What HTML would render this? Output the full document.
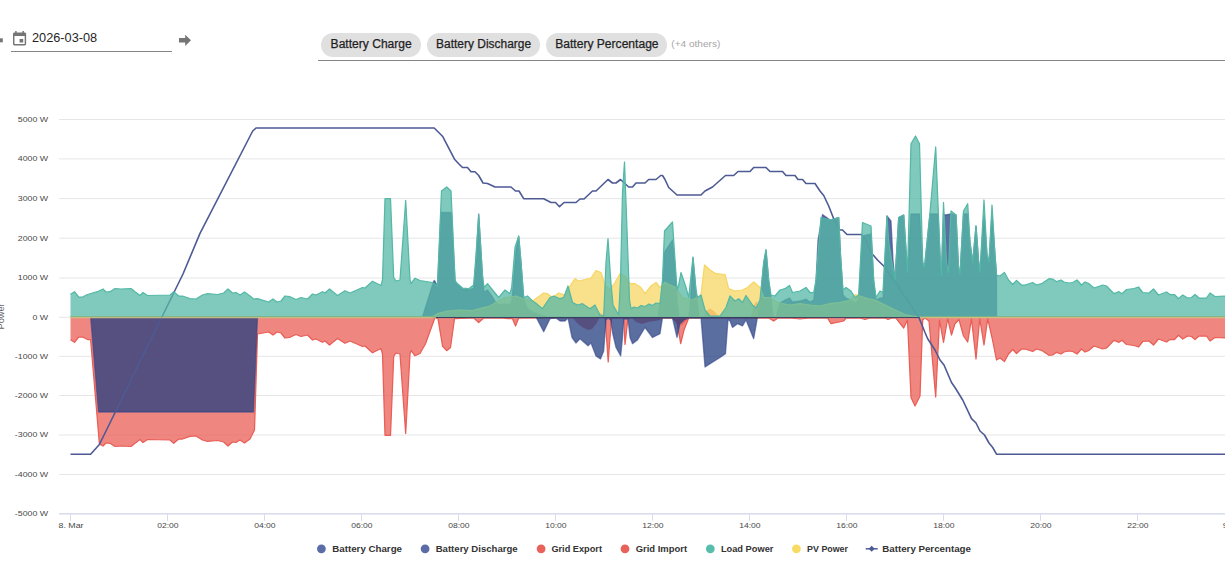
<!DOCTYPE html>
<html><head><meta charset="utf-8">
<style>
html,body{margin:0;padding:0;background:#fff;}
body{width:1225px;height:577px;overflow:hidden;position:relative;font-family:"Liberation Sans",sans-serif;}
svg{position:absolute;left:0;top:0;}
.ax{font-family:"Liberation Sans",sans-serif;font-size:8.1px;fill:#484848;}
.axt{font-family:"Liberation Sans",sans-serif;font-size:9.5px;fill:#666;}
.lg{font-family:"Liberation Sans",sans-serif;font-size:9.4px;font-weight:bold;fill:#333;}
.hd{font-family:"Liberation Sans",sans-serif;font-size:12.8px;fill:#1f1f1f;}
.ch{font-family:"Liberation Sans",sans-serif;font-size:12px;fill:#1f1f1f;stroke:#1f1f1f;stroke-width:0.25px;}
.ot{font-family:"Liberation Sans",sans-serif;font-size:9.8px;fill:#a6a6a6;}
</style></head><body>
<svg width="1225" height="577" viewBox="0 0 1225 577">
<!-- header -->
<rect x="0" y="38.3" width="2.8" height="4" fill="#757575"/>
<g fill="#757575" transform="translate(10.8,30.2) scale(0.73)">
<path d="M17 12h-5v5h5v-5zM16 1v2H8V1H6v2H5c-1.110 0-1.990.9-1.990 2L3 19c0 1.100.890 2 2 2h14c1.100 0 2-.9 2-2V5c0-1.100-.9-2-2-2h-1V1h-2zm3 18H5V8h14v11z"/>
</g>
<text x="32" y="42.2" textLength="65.2" lengthAdjust="spacingAndGlyphs" class="hd">2026-03-08</text>
<rect x="11" y="51" width="161" height="1" fill="#858585"/>
<path d="M179,38.100h6.200v-3.300l5.800,5.550l-5.800,5.550v-3.300h-6.200z" fill="#757575"/>
<rect x="321" y="33" width="100" height="24" rx="12" fill="#e0e0e0"/>
<rect x="427" y="33" width="113" height="24" rx="12" fill="#e0e0e0"/>
<rect x="546" y="33" width="121" height="24" rx="12" fill="#e0e0e0"/>
<text x="330.600" y="48.050" textLength="81.2" lengthAdjust="spacingAndGlyphs" class="ch">Battery Charge</text>
<text x="436.100" y="48.050" textLength="95" lengthAdjust="spacingAndGlyphs" class="ch">Battery Discharge</text>
<text x="555.200" y="48.050" textLength="103.4" lengthAdjust="spacingAndGlyphs" class="ch">Battery Percentage</text>
<text x="671.300" y="47" textLength="49" lengthAdjust="spacingAndGlyphs" class="ot">(+4 others)</text>
<rect x="318" y="60" width="907" height="1" fill="#858585"/>
<line x1="59" x2="1225" y1="119.5" y2="119.5" stroke="#e6e6e6" stroke-width="1"/>
<line x1="59" x2="1225" y1="158.9" y2="158.9" stroke="#e6e6e6" stroke-width="1"/>
<line x1="59" x2="1225" y1="198.6" y2="198.6" stroke="#e6e6e6" stroke-width="1"/>
<line x1="59" x2="1225" y1="238.2" y2="238.2" stroke="#e6e6e6" stroke-width="1"/>
<line x1="59" x2="1225" y1="278.0" y2="278.0" stroke="#e6e6e6" stroke-width="1"/>
<line x1="59" x2="1225" y1="317.3" y2="317.3" stroke="#e6e6e6" stroke-width="1"/>
<line x1="59" x2="1225" y1="356.3" y2="356.3" stroke="#e6e6e6" stroke-width="1"/>
<line x1="59" x2="1225" y1="395.5" y2="395.5" stroke="#e6e6e6" stroke-width="1"/>
<line x1="59" x2="1225" y1="435.0" y2="435.0" stroke="#e6e6e6" stroke-width="1"/>
<line x1="59" x2="1225" y1="474.5" y2="474.5" stroke="#e6e6e6" stroke-width="1"/>
<line x1="59" x2="1225" y1="513.8" y2="513.8" stroke="#d6dcec" stroke-width="1.4"/>
<line x1="70.5" x2="70.5" y1="513.8" y2="520.8" stroke="#d6dcec" stroke-width="1"/>
<line x1="167.5" x2="167.5" y1="513.8" y2="520.8" stroke="#d6dcec" stroke-width="1"/>
<line x1="264.5" x2="264.5" y1="513.8" y2="520.8" stroke="#d6dcec" stroke-width="1"/>
<line x1="361.5" x2="361.5" y1="513.8" y2="520.8" stroke="#d6dcec" stroke-width="1"/>
<line x1="458.5" x2="458.5" y1="513.8" y2="520.8" stroke="#d6dcec" stroke-width="1"/>
<line x1="555.5" x2="555.5" y1="513.8" y2="520.8" stroke="#d6dcec" stroke-width="1"/>
<line x1="652.5" x2="652.5" y1="513.8" y2="520.8" stroke="#d6dcec" stroke-width="1"/>
<line x1="749.5" x2="749.5" y1="513.8" y2="520.8" stroke="#d6dcec" stroke-width="1"/>
<line x1="846.5" x2="846.5" y1="513.8" y2="520.8" stroke="#d6dcec" stroke-width="1"/>
<line x1="943.5" x2="943.5" y1="513.8" y2="520.8" stroke="#d6dcec" stroke-width="1"/>
<line x1="1040.5" x2="1040.5" y1="513.8" y2="520.8" stroke="#d6dcec" stroke-width="1"/>
<line x1="1137.5" x2="1137.5" y1="513.8" y2="520.8" stroke="#d6dcec" stroke-width="1"/>
<line x1="1234.5" x2="1234.5" y1="513.8" y2="520.8" stroke="#d6dcec" stroke-width="1"/>
<path d="M572.0,317.0L572.0,317.0L577.0,323.0L582.0,327.0L588.0,330.0L592.0,329.0L596.0,324.0L600.0,317.0L631.0,317.0L636.0,322.0L642.0,324.0L648.0,322.0L655.0,321.0L660.0,320.0L665.0,317.0L673.0,317.0L677.0,324.0L682.0,325.0L686.0,321.0L690.0,317.0L690.0,317.0 Z" fill="#e95e56" fill-opacity="0.75" stroke="none"/>
<path d="M597.0,317.0L597.0,317.0L600.0,313.0L603.0,314.0L605.0,317.0L704.0,317.0L706.0,311.0L710.0,308.5L714.0,311.0L717.0,314.5L720.0,317.0L751.0,317.0L753.5,306.0L756.0,301.0L758.7,305.0L760.0,317.0L760.0,317.0 Z" fill="#e95e56" fill-opacity="0.75" stroke="none"/>
<path d="M70.5,317.0L70.5,339.8L74.5,342.3L78.7,337.0L82.5,337.0L87.5,339.5L90.6,339.5L99.4,444.0L103.0,446.0L106.0,443.0L110.0,443.3L115.0,446.5L121.0,446.0L131.0,446.5L135.0,443.3L140.0,439.5L143.0,442.5L147.5,439.5L170.0,440.0L173.7,443.3L178.7,439.0L182.5,439.0L190.0,436.3L196.0,436.0L202.5,440.0L207.5,441.3L217.5,440.5L223.7,442.0L228.0,446.0L232.5,442.0L236.0,442.5L240.0,440.0L244.5,443.0L250.0,439.0L254.5,430.0L257.5,334.0L268.7,332.0L273.0,335.0L277.0,332.0L281.0,333.0L285.0,338.0L290.0,337.3L296.0,334.5L301.0,336.5L307.5,335.0L312.5,340.0L316.0,339.0L322.5,342.3L325.0,341.0L329.5,345.0L337.5,338.5L345.0,343.3L350.0,341.0L362.5,346.5L365.0,346.0L372.5,352.8L381.0,348.5L382.5,354.0L385.0,435.3L390.5,435.3L393.7,356.5L396.0,353.0L400.0,354.0L405.7,433.5L410.0,354.0L411.0,350.3L415.0,355.8L420.0,353.5L425.5,343.7L435.0,317.5L438.0,318.7L442.5,346.0L446.7,350.7L450.5,347.5L454.5,318.7L473.7,318.0L478.7,322.5L483.7,318.0L501.0,318.0L507.5,318.7L512.5,318.7L515.5,326.0L518.7,318.0L604.0,317.5L605.2,318.0L608.2,362.0L611.5,318.0L623.7,318.0L625.0,344.5L628.0,318.0L672.0,318.0L677.0,322.0L680.7,343.7L684.0,330.0L688.7,318.0L768.7,318.0L773.7,321.0L778.0,318.0L790.0,318.0L800.0,319.0L810.0,318.0L827.5,318.0L831.0,323.7L843.7,321.0L846.0,318.0L860.0,318.0L865.0,319.5L870.0,318.0L885.0,318.0L888.0,319.5L892.0,318.0L896.0,318.0L903.7,328.0L907.5,320.0L911.0,397.5L915.0,406.0L920.0,396.0L922.7,320.0L925.0,318.0L929.0,321.0L935.7,397.0L939.5,320.0L943.5,342.5L947.7,318.7L951.5,335.0L955.0,323.7L959.0,319.5L963.5,336.0L967.7,342.0L971.5,318.7L976.0,359.0L979.7,318.7L984.0,345.0L987.7,318.7L992.0,337.5L996.5,360.0L1000.0,358.0L1004.5,361.5L1008.5,354.0L1012.7,349.5L1016.5,353.5L1021.5,349.0L1025.0,349.0L1032.7,351.5L1036.5,349.0L1041.5,350.3L1049.0,355.3L1052.7,355.0L1056.5,352.3L1061.0,354.0L1064.0,352.0L1069.0,351.0L1072.7,351.5L1077.0,354.0L1081.5,349.0L1085.0,352.0L1089.0,350.3L1094.0,346.0L1102.7,349.0L1106.5,348.0L1114.0,340.3L1119.0,342.3L1122.0,340.3L1126.5,344.5L1134.0,345.5L1138.5,347.0L1142.7,341.5L1149.0,341.0L1153.5,345.0L1158.5,339.0L1166.5,342.0L1170.0,339.5L1174.5,339.5L1178.5,335.3L1182.7,339.0L1187.7,336.0L1191.5,336.5L1195.0,339.5L1199.0,336.0L1206.5,336.0L1210.0,341.0L1215.0,337.5L1225.0,338.0L1235.0,338.0L1235.0,317.0 Z" fill="#e95e56" fill-opacity="0.75" stroke="none"/><path d="M70.5,339.8L74.5,342.3L78.7,337.0L82.5,337.0L87.5,339.5L90.6,339.5L99.4,444.0L103.0,446.0L106.0,443.0L110.0,443.3L115.0,446.5L121.0,446.0L131.0,446.5L135.0,443.3L140.0,439.5L143.0,442.5L147.5,439.5L170.0,440.0L173.7,443.3L178.7,439.0L182.5,439.0L190.0,436.3L196.0,436.0L202.5,440.0L207.5,441.3L217.5,440.5L223.7,442.0L228.0,446.0L232.5,442.0L236.0,442.5L240.0,440.0L244.5,443.0L250.0,439.0L254.5,430.0L257.5,334.0L268.7,332.0L273.0,335.0L277.0,332.0L281.0,333.0L285.0,338.0L290.0,337.3L296.0,334.5L301.0,336.5L307.5,335.0L312.5,340.0L316.0,339.0L322.5,342.3L325.0,341.0L329.5,345.0L337.5,338.5L345.0,343.3L350.0,341.0L362.5,346.5L365.0,346.0L372.5,352.8L381.0,348.5L382.5,354.0L385.0,435.3L390.5,435.3L393.7,356.5L396.0,353.0L400.0,354.0L405.7,433.5L410.0,354.0L411.0,350.3L415.0,355.8L420.0,353.5L425.5,343.7L435.0,317.5L438.0,318.7L442.5,346.0L446.7,350.7L450.5,347.5L454.5,318.7L473.7,318.0L478.7,322.5L483.7,318.0L501.0,318.0L507.5,318.7L512.5,318.7L515.5,326.0L518.7,318.0L604.0,317.5L605.2,318.0L608.2,362.0L611.5,318.0L623.7,318.0L625.0,344.5L628.0,318.0L672.0,318.0L677.0,322.0L680.7,343.7L684.0,330.0L688.7,318.0L768.7,318.0L773.7,321.0L778.0,318.0L790.0,318.0L800.0,319.0L810.0,318.0L827.5,318.0L831.0,323.7L843.7,321.0L846.0,318.0L860.0,318.0L865.0,319.5L870.0,318.0L885.0,318.0L888.0,319.5L892.0,318.0L896.0,318.0L903.7,328.0L907.5,320.0L911.0,397.5L915.0,406.0L920.0,396.0L922.7,320.0L925.0,318.0L929.0,321.0L935.7,397.0L939.5,320.0L943.5,342.5L947.7,318.7L951.5,335.0L955.0,323.7L959.0,319.5L963.5,336.0L967.7,342.0L971.5,318.7L976.0,359.0L979.7,318.7L984.0,345.0L987.7,318.7L992.0,337.5L996.5,360.0L1000.0,358.0L1004.5,361.5L1008.5,354.0L1012.7,349.5L1016.5,353.5L1021.5,349.0L1025.0,349.0L1032.7,351.5L1036.5,349.0L1041.5,350.3L1049.0,355.3L1052.7,355.0L1056.5,352.3L1061.0,354.0L1064.0,352.0L1069.0,351.0L1072.7,351.5L1077.0,354.0L1081.5,349.0L1085.0,352.0L1089.0,350.3L1094.0,346.0L1102.7,349.0L1106.5,348.0L1114.0,340.3L1119.0,342.3L1122.0,340.3L1126.5,344.5L1134.0,345.5L1138.5,347.0L1142.7,341.5L1149.0,341.0L1153.5,345.0L1158.5,339.0L1166.5,342.0L1170.0,339.5L1174.5,339.5L1178.5,335.3L1182.7,339.0L1187.7,336.0L1191.5,336.5L1195.0,339.5L1199.0,336.0L1206.5,336.0L1210.0,341.0L1215.0,337.5L1225.0,338.0L1235.0,338.0" fill="none" stroke="#e95e56" stroke-opacity="1" stroke-width="1.25" stroke-linejoin="round"/>
<path d="M90.6,317.0L90.6,317.0L98.5,412.0L253.5,412.0L257.5,317.0L536.0,317.0L543.7,331.7L550.0,318.7L556.0,318.0L560.0,321.0L565.0,321.0L568.0,318.0L572.0,337.5L576.0,343.0L580.0,338.7L588.0,345.7L591.0,343.0L596.0,356.0L600.5,359.0L603.7,351.0L606.0,320.0L608.0,318.0L610.7,320.0L612.5,332.5L616.0,347.5L620.7,356.0L622.5,337.5L623.7,319.0L628.0,319.0L630.0,337.5L632.5,343.7L637.5,340.0L645.0,327.5L652.5,337.5L660.0,333.7L662.5,318.0L672.5,318.0L677.0,337.5L680.0,323.7L684.0,320.0L688.7,318.0L701.0,318.0L705.0,367.0L720.0,357.5L725.5,353.7L728.0,320.0L730.0,321.0L732.5,327.5L737.5,323.7L742.5,326.0L746.0,320.0L753.7,338.7L757.5,317.0L757.5,317.0 Z" fill="#233d80" fill-opacity="0.75" stroke="none"/><path d="M90.6,317.0L98.5,412.0L253.5,412.0L257.5,317.0L536.0,317.0L543.7,331.7L550.0,318.7L556.0,318.0L560.0,321.0L565.0,321.0L568.0,318.0L572.0,337.5L576.0,343.0L580.0,338.7L588.0,345.7L591.0,343.0L596.0,356.0L600.5,359.0L603.7,351.0L606.0,320.0L608.0,318.0L610.7,320.0L612.5,332.5L616.0,347.5L620.7,356.0L622.5,337.5L623.7,319.0L628.0,319.0L630.0,337.5L632.5,343.7L637.5,340.0L645.0,327.5L652.5,337.5L660.0,333.7L662.5,318.0L672.5,318.0L677.0,337.5L680.0,323.7L684.0,320.0L688.7,318.0L701.0,318.0L705.0,367.0L720.0,357.5L725.5,353.7L728.0,320.0L730.0,321.0L732.5,327.5L737.5,323.7L742.5,326.0L746.0,320.0L753.7,338.7L757.5,317.0" fill="none" stroke="#34458a" stroke-opacity="0.6" stroke-width="1.3" stroke-linejoin="round"/>
<path d="M422.5,317.0L422.5,317.0L433.7,281.0L434.5,280.5L437.5,286.0L441.0,212.5L451.5,212.5L455.0,280.0L456.0,282.5L462.5,289.0L468.7,290.0L473.7,288.0L476.0,262.0L478.7,214.0L482.5,278.0L484.0,292.0L487.5,290.0L492.5,297.0L495.6,302.0L498.7,305.0L505.0,304.0L510.0,305.0L512.0,300.0L516.0,250.0L518.7,236.5L521.0,262.5L523.7,298.0L527.0,308.0L532.5,312.0L540.0,315.0L548.0,317.0L658.0,317.0L662.5,285.0L664.5,252.0L672.5,240.0L675.0,265.0L677.0,300.0L679.0,317.0L689.0,317.0L690.5,300.0L693.0,258.0L696.0,292.0L697.5,303.0L699.0,317.0L758.0,317.0L760.0,303.0L763.7,264.0L766.0,250.5L768.7,281.0L771.0,298.0L773.0,317.0L776.0,317.0L780.0,303.0L785.0,300.0L789.5,298.0L792.5,302.0L800.0,301.0L806.0,299.0L810.0,302.0L813.7,300.0L816.0,282.0L818.0,240.0L822.5,214.5L826.0,217.0L830.0,220.0L838.7,217.5L840.5,255.0L843.0,295.0L846.0,298.0L851.0,300.0L855.0,303.0L858.7,300.0L862.5,236.0L871.0,234.0L873.7,282.0L876.0,300.0L880.0,298.0L883.0,298.0L886.0,240.0L887.0,216.0L891.0,221.0L893.0,260.0L895.0,280.0L898.7,217.5L903.7,215.0L907.5,272.5L911.0,214.0L919.5,214.0L922.7,262.5L924.5,267.5L930.0,214.0L938.0,214.0L940.0,255.0L941.5,275.0L943.5,214.0L945.0,215.0L951.0,214.0L956.0,215.0L958.5,267.5L960.0,275.0L963.5,214.0L967.7,214.0L970.0,242.5L972.7,262.5L976.0,226.0L978.5,260.0L980.0,272.5L984.0,214.0L987.0,255.0L989.0,262.5L992.0,214.0L995.0,255.0L996.5,275.0L996.6,317.0L996.6,317.0 Z" fill="#263f84" fill-opacity="0.75" stroke="none"/><path d="M422.5,317.0L433.7,281.0L434.5,280.5L437.5,286.0L441.0,212.5L451.5,212.5L455.0,280.0L456.0,282.5L462.5,289.0L468.7,290.0L473.7,288.0L476.0,262.0L478.7,214.0L482.5,278.0L484.0,292.0L487.5,290.0L492.5,297.0L495.6,302.0L498.7,305.0L505.0,304.0L510.0,305.0L512.0,300.0L516.0,250.0L518.7,236.5L521.0,262.5L523.7,298.0L527.0,308.0L532.5,312.0L540.0,315.0L548.0,317.0L658.0,317.0L662.5,285.0L664.5,252.0L672.5,240.0L675.0,265.0L677.0,300.0L679.0,317.0L689.0,317.0L690.5,300.0L693.0,258.0L696.0,292.0L697.5,303.0L699.0,317.0L758.0,317.0L760.0,303.0L763.7,264.0L766.0,250.5L768.7,281.0L771.0,298.0L773.0,317.0L776.0,317.0L780.0,303.0L785.0,300.0L789.5,298.0L792.5,302.0L800.0,301.0L806.0,299.0L810.0,302.0L813.7,300.0L816.0,282.0L818.0,240.0L822.5,214.5L826.0,217.0L830.0,220.0L838.7,217.5L840.5,255.0L843.0,295.0L846.0,298.0L851.0,300.0L855.0,303.0L858.7,300.0L862.5,236.0L871.0,234.0L873.7,282.0L876.0,300.0L880.0,298.0L883.0,298.0L886.0,240.0L887.0,216.0L891.0,221.0L893.0,260.0L895.0,280.0L898.7,217.5L903.7,215.0L907.5,272.5L911.0,214.0L919.5,214.0L922.7,262.5L924.5,267.5L930.0,214.0L938.0,214.0L940.0,255.0L941.5,275.0L943.5,214.0L945.0,215.0L951.0,214.0L956.0,215.0L958.5,267.5L960.0,275.0L963.5,214.0L967.7,214.0L970.0,242.5L972.7,262.5L976.0,226.0L978.5,260.0L980.0,272.5L984.0,214.0L987.0,255.0L989.0,262.5L992.0,214.0L995.0,255.0L996.5,275.0L996.6,317.0" fill="none" stroke="#34458a" stroke-opacity="0.6" stroke-width="1.3" stroke-linejoin="round"/>
<path d="M70.5,317.0L70.5,317.0L432.0,317.0L437.5,313.7L447.5,311.0L460.0,310.0L472.5,310.7L480.0,308.7L490.0,306.0L500.0,300.0L505.0,297.5L510.0,297.0L516.0,296.0L522.5,298.7L532.5,301.0L537.5,297.5L543.7,293.0L547.5,293.7L552.5,297.5L558.7,293.0L565.0,295.0L570.0,286.0L575.0,278.7L578.7,281.0L585.0,279.5L591.0,278.0L596.0,270.5L601.0,272.5L605.0,285.0L610.0,290.0L615.0,282.5L620.0,273.7L625.0,276.0L630.0,283.7L635.0,283.7L641.0,287.5L645.0,293.7L651.0,286.0L656.0,282.5L660.0,287.5L665.0,282.5L670.0,285.0L676.0,287.5L682.5,297.5L692.5,300.0L701.0,295.0L704.5,265.0L710.0,270.0L716.0,273.7L725.0,274.5L728.7,288.7L735.0,291.0L742.5,290.0L747.5,287.5L753.7,282.0L760.0,287.5L763.7,297.5L770.0,297.5L777.5,302.5L790.0,305.0L800.0,303.7L810.0,305.0L820.0,306.0L830.0,303.7L840.0,302.5L850.0,300.0L855.5,294.5L860.0,296.0L867.5,298.7L875.0,300.0L882.5,303.7L890.0,307.5L897.5,311.0L905.0,314.5L912.5,316.0L920.0,317.0L1235.0,317.0L1235.0,317.0 Z" fill="#f7d664" fill-opacity="0.75" stroke="none"/><path d="M70.5,317.0L432.0,317.0L437.5,313.7L447.5,311.0L460.0,310.0L472.5,310.7L480.0,308.7L490.0,306.0L500.0,300.0L505.0,297.5L510.0,297.0L516.0,296.0L522.5,298.7L532.5,301.0L537.5,297.5L543.7,293.0L547.5,293.7L552.5,297.5L558.7,293.0L565.0,295.0L570.0,286.0L575.0,278.7L578.7,281.0L585.0,279.5L591.0,278.0L596.0,270.5L601.0,272.5L605.0,285.0L610.0,290.0L615.0,282.5L620.0,273.7L625.0,276.0L630.0,283.7L635.0,283.7L641.0,287.5L645.0,293.7L651.0,286.0L656.0,282.5L660.0,287.5L665.0,282.5L670.0,285.0L676.0,287.5L682.5,297.5L692.5,300.0L701.0,295.0L704.5,265.0L710.0,270.0L716.0,273.7L725.0,274.5L728.7,288.7L735.0,291.0L742.5,290.0L747.5,287.5L753.7,282.0L760.0,287.5L763.7,297.5L770.0,297.5L777.5,302.5L790.0,305.0L800.0,303.7L810.0,305.0L820.0,306.0L830.0,303.7L840.0,302.5L850.0,300.0L855.5,294.5L860.0,296.0L867.5,298.7L875.0,300.0L882.5,303.7L890.0,307.5L897.5,311.0L905.0,314.5L912.5,316.0L920.0,317.0L1235.0,317.0" fill="none" stroke="#f7d664" stroke-opacity="1" stroke-width="1.25" stroke-linejoin="round"/>
<line x1="436" x2="920" y1="317.6" y2="317.6" stroke="#34405f" stroke-width="1"/>
<path d="M70.5,454.2L90.6,454.2L99.4,444.5L183.0,274.0L200.0,233.4L252.7,131.0L256.0,128.0L434.2,128.0L442.5,136.2L454.5,159.2L458.7,163.7L462.5,167.5L467.5,167.5L471.0,171.7L475.0,171.7L478.7,175.5L483.0,183.0L487.5,183.5L495.0,187.0L511.0,187.0L515.5,191.0L519.0,191.0L523.7,198.7L543.7,198.7L551.0,202.5L555.5,202.5L559.5,206.7L564.0,202.5L576.0,202.5L580.0,199.0L584.0,199.0L592.5,191.0L596.0,191.0L608.0,179.5L612.5,183.0L616.0,183.0L620.5,179.5L628.7,187.0L632.5,187.0L636.0,183.0L645.0,183.0L648.7,179.5L656.0,179.5L660.7,175.5L662.5,175.5L665.0,179.5L668.7,187.5L677.0,195.0L701.0,195.0L705.0,191.0L712.5,187.0L725.5,175.5L733.7,175.5L738.0,171.5L750.0,171.5L753.7,167.5L766.0,167.5L770.0,171.5L782.5,171.5L786.0,175.5L795.0,175.5L798.0,179.5L802.5,179.5L806.0,183.5L815.0,183.5L820.0,191.0L823.7,195.5L828.7,206.0L833.7,218.7L839.5,230.0L842.5,230.0L847.0,234.5L861.2,234.5L865.0,238.7L871.0,252.5L877.5,260.0L883.7,266.0L890.0,275.0L897.5,285.0L903.7,295.0L910.0,303.7L916.0,313.7L918.7,317.0L925.0,332.5L927.7,338.7L935.0,350.0L940.0,360.0L944.0,365.0L951.5,382.5L955.0,387.5L962.7,400.0L971.5,418.7L976.0,423.0L980.0,431.0L984.5,435.0L989.0,443.0L992.7,447.5L996.5,454.2L1235.0,454.2" fill="none" stroke="#4d5a94" stroke-width="1.6" stroke-linejoin="round"/>
<path d="M70.5,317.0L70.5,294.2L74.5,291.7L78.7,297.0L82.5,297.0L87.5,294.5L97.5,291.7L103.0,289.0L106.0,292.0L110.0,291.7L115.0,288.5L121.0,289.0L131.0,288.5L135.0,291.7L140.0,295.5L143.0,292.5L147.5,295.5L170.0,295.0L173.7,291.7L178.7,296.0L182.5,296.0L190.0,298.7L196.0,299.0L202.5,295.0L207.5,293.7L217.5,294.5L223.7,293.0L228.0,289.0L232.5,293.0L236.0,292.5L240.0,295.0L244.5,292.0L250.0,296.0L253.7,299.0L257.5,298.7L268.7,302.0L273.0,299.0L277.0,302.0L281.0,301.0L285.0,296.0L290.0,296.7L296.0,299.5L301.0,297.5L307.5,299.0L312.5,294.0L316.0,295.0L322.5,291.7L325.0,293.0L329.5,289.0L337.5,295.5L345.0,290.7L350.0,293.0L362.5,287.5L365.0,288.0L372.5,281.2L381.0,285.5L382.5,280.0L385.0,198.7L390.5,198.7L393.7,277.5L396.0,281.0L400.0,280.0L405.7,200.5L410.0,280.0L411.0,283.7L415.0,278.2L420.0,280.5L432.5,282.5L437.5,286.0L441.5,191.0L446.7,187.0L451.0,191.0L455.0,280.0L456.0,282.5L462.5,288.0L468.7,288.7L473.7,285.0L476.0,255.0L478.7,215.0L482.5,275.0L484.0,287.5L487.5,283.7L492.5,290.0L498.7,297.5L505.0,290.0L510.0,293.7L511.7,287.5L515.0,247.5L518.7,236.0L521.0,262.5L523.7,297.5L527.5,296.0L532.5,301.0L535.0,302.5L542.5,308.7L550.0,297.5L553.7,296.0L560.0,298.7L563.7,297.5L568.0,286.0L572.5,302.5L577.5,305.0L582.5,303.7L590.0,308.7L595.0,305.0L600.0,315.0L603.7,316.0L606.0,262.5L608.0,238.7L610.7,280.0L613.0,305.0L618.7,315.0L620.5,280.0L622.5,192.5L624.5,162.0L627.0,230.0L629.5,300.0L631.0,308.7L634.0,307.0L637.5,308.0L641.0,305.5L645.0,306.5L649.0,304.0L652.5,305.5L656.0,303.0L660.0,303.7L662.5,280.0L664.5,231.0L672.5,222.0L675.0,260.0L677.0,290.0L678.7,285.0L681.0,272.5L686.0,287.5L688.7,297.5L693.0,257.0L696.0,290.0L697.5,297.5L701.0,295.0L705.0,310.0L710.0,316.0L720.0,316.0L726.0,307.5L730.0,296.0L735.0,301.0L738.7,298.7L742.5,302.5L746.0,295.5L752.5,305.0L756.0,308.0L760.0,300.0L763.7,262.5L766.0,249.5L768.7,280.0L771.0,295.0L775.0,296.0L780.0,290.0L785.0,288.7L789.5,285.5L792.5,292.5L800.0,291.0L806.0,287.5L810.0,292.5L813.7,292.5L816.0,280.0L821.0,217.5L830.0,220.0L838.7,217.5L840.5,255.0L843.0,290.0L846.0,287.5L851.0,291.0L855.0,297.5L858.7,295.0L862.5,222.5L871.0,226.0L873.7,280.0L876.0,297.5L880.0,291.0L883.0,292.5L887.0,216.0L888.7,242.5L895.0,280.0L898.7,217.5L903.7,215.0L907.5,272.5L911.0,143.7L915.5,136.0L919.5,143.7L922.7,262.5L924.5,267.5L930.0,212.5L935.7,147.0L940.0,255.0L941.5,275.0L943.5,202.5L946.5,262.5L948.5,272.5L951.0,211.0L956.0,215.0L958.5,267.5L960.0,275.0L963.5,211.0L967.7,203.7L970.0,242.5L972.7,262.5L976.0,226.0L978.5,260.0L980.0,272.5L984.0,200.0L987.0,255.0L989.0,262.5L992.0,205.0L995.0,255.0L996.5,275.0L1000.0,276.0L1004.5,272.5L1008.5,280.0L1012.7,284.5L1016.5,280.5L1021.5,285.0L1025.0,285.0L1032.7,282.5L1036.5,285.0L1041.5,283.7L1049.0,278.7L1052.7,279.0L1056.5,281.7L1061.0,280.0L1064.0,282.0L1069.0,283.0L1072.7,282.5L1077.0,280.0L1081.5,285.0L1085.0,282.0L1089.0,283.7L1094.0,288.0L1102.7,285.0L1106.5,286.0L1114.0,293.7L1119.0,291.7L1122.0,293.7L1126.5,289.5L1134.0,288.5L1138.5,287.0L1142.7,292.5L1149.0,293.0L1153.5,289.0L1158.5,295.0L1166.5,292.0L1170.0,294.5L1174.5,294.5L1178.5,298.7L1182.7,295.0L1187.7,298.0L1191.5,297.5L1195.0,294.5L1199.0,298.0L1206.5,298.0L1210.0,293.0L1215.0,296.5L1225.0,296.0L1235.0,296.0L1235.0,317.0 Z" fill="#54b8a6" fill-opacity="0.75" stroke="none"/><path d="M70.5,294.2L74.5,291.7L78.7,297.0L82.5,297.0L87.5,294.5L97.5,291.7L103.0,289.0L106.0,292.0L110.0,291.7L115.0,288.5L121.0,289.0L131.0,288.5L135.0,291.7L140.0,295.5L143.0,292.5L147.5,295.5L170.0,295.0L173.7,291.7L178.7,296.0L182.5,296.0L190.0,298.7L196.0,299.0L202.5,295.0L207.5,293.7L217.5,294.5L223.7,293.0L228.0,289.0L232.5,293.0L236.0,292.5L240.0,295.0L244.5,292.0L250.0,296.0L253.7,299.0L257.5,298.7L268.7,302.0L273.0,299.0L277.0,302.0L281.0,301.0L285.0,296.0L290.0,296.7L296.0,299.5L301.0,297.5L307.5,299.0L312.5,294.0L316.0,295.0L322.5,291.7L325.0,293.0L329.5,289.0L337.5,295.5L345.0,290.7L350.0,293.0L362.5,287.5L365.0,288.0L372.5,281.2L381.0,285.5L382.5,280.0L385.0,198.7L390.5,198.7L393.7,277.5L396.0,281.0L400.0,280.0L405.7,200.5L410.0,280.0L411.0,283.7L415.0,278.2L420.0,280.5L432.5,282.5L437.5,286.0L441.5,191.0L446.7,187.0L451.0,191.0L455.0,280.0L456.0,282.5L462.5,288.0L468.7,288.7L473.7,285.0L476.0,255.0L478.7,215.0L482.5,275.0L484.0,287.5L487.5,283.7L492.5,290.0L498.7,297.5L505.0,290.0L510.0,293.7L511.7,287.5L515.0,247.5L518.7,236.0L521.0,262.5L523.7,297.5L527.5,296.0L532.5,301.0L535.0,302.5L542.5,308.7L550.0,297.5L553.7,296.0L560.0,298.7L563.7,297.5L568.0,286.0L572.5,302.5L577.5,305.0L582.5,303.7L590.0,308.7L595.0,305.0L600.0,315.0L603.7,316.0L606.0,262.5L608.0,238.7L610.7,280.0L613.0,305.0L618.7,315.0L620.5,280.0L622.5,192.5L624.5,162.0L627.0,230.0L629.5,300.0L631.0,308.7L634.0,307.0L637.5,308.0L641.0,305.5L645.0,306.5L649.0,304.0L652.5,305.5L656.0,303.0L660.0,303.7L662.5,280.0L664.5,231.0L672.5,222.0L675.0,260.0L677.0,290.0L678.7,285.0L681.0,272.5L686.0,287.5L688.7,297.5L693.0,257.0L696.0,290.0L697.5,297.5L701.0,295.0L705.0,310.0L710.0,316.0L720.0,316.0L726.0,307.5L730.0,296.0L735.0,301.0L738.7,298.7L742.5,302.5L746.0,295.5L752.5,305.0L756.0,308.0L760.0,300.0L763.7,262.5L766.0,249.5L768.7,280.0L771.0,295.0L775.0,296.0L780.0,290.0L785.0,288.7L789.5,285.5L792.5,292.5L800.0,291.0L806.0,287.5L810.0,292.5L813.7,292.5L816.0,280.0L821.0,217.5L830.0,220.0L838.7,217.5L840.5,255.0L843.0,290.0L846.0,287.5L851.0,291.0L855.0,297.5L858.7,295.0L862.5,222.5L871.0,226.0L873.7,280.0L876.0,297.5L880.0,291.0L883.0,292.5L887.0,216.0L888.7,242.5L895.0,280.0L898.7,217.5L903.7,215.0L907.5,272.5L911.0,143.7L915.5,136.0L919.5,143.7L922.7,262.5L924.5,267.5L930.0,212.5L935.7,147.0L940.0,255.0L941.5,275.0L943.5,202.5L946.5,262.5L948.5,272.5L951.0,211.0L956.0,215.0L958.5,267.5L960.0,275.0L963.5,211.0L967.7,203.7L970.0,242.5L972.7,262.5L976.0,226.0L978.5,260.0L980.0,272.5L984.0,200.0L987.0,255.0L989.0,262.5L992.0,205.0L995.0,255.0L996.5,275.0L1000.0,276.0L1004.5,272.5L1008.5,280.0L1012.7,284.5L1016.5,280.5L1021.5,285.0L1025.0,285.0L1032.7,282.5L1036.5,285.0L1041.5,283.7L1049.0,278.7L1052.7,279.0L1056.5,281.7L1061.0,280.0L1064.0,282.0L1069.0,283.0L1072.7,282.5L1077.0,280.0L1081.5,285.0L1085.0,282.0L1089.0,283.7L1094.0,288.0L1102.7,285.0L1106.5,286.0L1114.0,293.7L1119.0,291.7L1122.0,293.7L1126.5,289.5L1134.0,288.5L1138.5,287.0L1142.7,292.5L1149.0,293.0L1153.5,289.0L1158.5,295.0L1166.5,292.0L1170.0,294.5L1174.5,294.5L1178.5,298.7L1182.7,295.0L1187.7,298.0L1191.5,297.5L1195.0,294.5L1199.0,298.0L1206.5,298.0L1210.0,293.0L1215.0,296.5L1225.0,296.0L1235.0,296.0" fill="none" stroke="#54b8a6" stroke-opacity="1" stroke-width="1.25" stroke-linejoin="round"/>
<line x1="70.5" x2="436" y1="316.8" y2="316.8" stroke="#86b07f" stroke-width="1.2"/>
<line x1="70.5" x2="436" y1="317.8" y2="317.8" stroke="#d6c08e" stroke-width="0.8"/>
<line x1="920" x2="1225" y1="316.8" y2="316.8" stroke="#86b07f" stroke-width="1.2"/>
<line x1="920" x2="1225" y1="317.8" y2="317.8" stroke="#d6c08e" stroke-width="0.8"/>
<text transform="translate(48.2,121.9) scale(1.09,1)" text-anchor="end" class="ax">5000 W</text>
<text transform="translate(48.2,161.3) scale(1.09,1)" text-anchor="end" class="ax">4000 W</text>
<text transform="translate(48.2,201.0) scale(1.09,1)" text-anchor="end" class="ax">3000 W</text>
<text transform="translate(48.2,240.6) scale(1.09,1)" text-anchor="end" class="ax">2000 W</text>
<text transform="translate(48.2,280.4) scale(1.09,1)" text-anchor="end" class="ax">1000 W</text>
<text transform="translate(48.2,319.7) scale(1.09,1)" text-anchor="end" class="ax">0 W</text>
<text transform="translate(48.2,358.7) scale(1.09,1)" text-anchor="end" class="ax">-1000 W</text>
<text transform="translate(48.2,397.9) scale(1.09,1)" text-anchor="end" class="ax">-2000 W</text>
<text transform="translate(48.2,437.4) scale(1.09,1)" text-anchor="end" class="ax">-3000 W</text>
<text transform="translate(48.2,476.9) scale(1.09,1)" text-anchor="end" class="ax">-4000 W</text>
<text transform="translate(48.2,516.1) scale(1.09,1)" text-anchor="end" class="ax">-5000 W</text>
<text transform="translate(71,527.7) scale(1.09,1)" text-anchor="middle" class="ax">8. Mar</text>
<text transform="translate(167.9,527.7) scale(1.06,1)" text-anchor="middle" class="ax">02:00</text>
<text transform="translate(264.9,527.7) scale(1.06,1)" text-anchor="middle" class="ax">04:00</text>
<text transform="translate(361.9,527.7) scale(1.06,1)" text-anchor="middle" class="ax">06:00</text>
<text transform="translate(458.9,527.7) scale(1.06,1)" text-anchor="middle" class="ax">08:00</text>
<text transform="translate(555.9,527.7) scale(1.06,1)" text-anchor="middle" class="ax">10:00</text>
<text transform="translate(652.9,527.7) scale(1.06,1)" text-anchor="middle" class="ax">12:00</text>
<text transform="translate(749.9,527.7) scale(1.06,1)" text-anchor="middle" class="ax">14:00</text>
<text transform="translate(846.9,527.7) scale(1.06,1)" text-anchor="middle" class="ax">16:00</text>
<text transform="translate(943.9,527.7) scale(1.06,1)" text-anchor="middle" class="ax">18:00</text>
<text transform="translate(1040.9,527.7) scale(1.06,1)" text-anchor="middle" class="ax">20:00</text>
<text transform="translate(1137.9,527.7) scale(1.06,1)" text-anchor="middle" class="ax">22:00</text>
<text transform="translate(1222.8,527.7) scale(1.09,1)" text-anchor="start" class="ax">9. Mar</text>
<text transform="translate(4.3,329.5) rotate(-90)" textLength="26.2" lengthAdjust="spacingAndGlyphs" class="axt">Power</text>
<circle cx="321.4" cy="548.8" r="4.4" fill="#5b6ca6"/>
<text x="332.3" y="551.8" textLength="69.7" lengthAdjust="spacingAndGlyphs" class="lg">Battery Charge</text>
<circle cx="425.1" cy="548.8" r="4.4" fill="#5b6ca6"/>
<text x="435.7" y="551.8" textLength="82.0" lengthAdjust="spacingAndGlyphs" class="lg">Battery Discharge</text>
<circle cx="541.1" cy="548.8" r="4.4" fill="#e8615a"/>
<text x="551.4" y="551.8" textLength="50.6" lengthAdjust="spacingAndGlyphs" class="lg">Grid Export</text>
<circle cx="625.0" cy="548.8" r="4.4" fill="#e8615a"/>
<text x="635.7" y="551.8" textLength="51.4" lengthAdjust="spacingAndGlyphs" class="lg">Grid Import</text>
<circle cx="710.3" cy="548.8" r="4.4" fill="#58beac"/>
<text x="720.9" y="551.8" textLength="52.5" lengthAdjust="spacingAndGlyphs" class="lg">Load Power</text>
<circle cx="796.4" cy="548.8" r="4.4" fill="#f8da64"/>
<text x="807.1" y="551.8" textLength="40.9" lengthAdjust="spacingAndGlyphs" class="lg">PV Power</text>
<line x1="865.7" x2="877.7" y1="548.8" y2="548.8" stroke="#4d5a94" stroke-width="1.5"/>
<path d="M871.7,545.8L874.7,548.8L871.7,551.8L868.7,548.8Z" fill="#4d5a94"/>
<text x="882.3" y="551.8" textLength="88.6" lengthAdjust="spacingAndGlyphs" class="lg">Battery Percentage</text>
</svg>
</body></html>
